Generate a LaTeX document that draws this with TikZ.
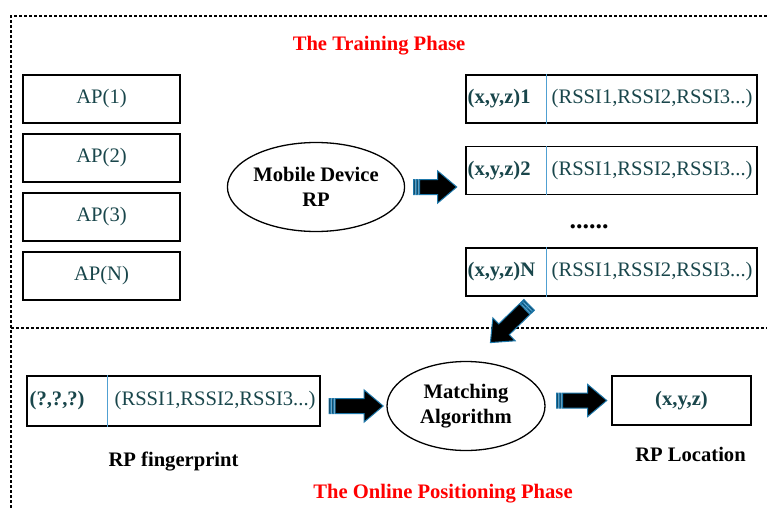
\documentclass[tikz,border=0pt]{standalone}
\usepackage{fontspec}
\setmainfont{Liberation Serif}
\usetikzlibrary{shapes,positioning,calc}
\definecolor{tealText}{RGB}{25,70,75}
\definecolor{arrowBlue}{RGB}{30,120,170}
\definecolor{cellLine}{RGB}{80,160,210}
\newcommand{\bigFont}{\fontsize{20.6}{24.5}\selectfont}

\begin{document}
\begin{tikzpicture}[x=1pt,y=-1pt,thick,
	Box/.style={rectangle,draw=black,line width=1.5pt,minimum height=48pt,inner sep=0pt},
	ApBox/.style={Box,minimum width=157pt,font=\bigFont,text=tealText},
	RowBox/.style={Box,minimum width=291pt},
	Oval/.style={ellipse,draw=black,line width=1.3pt,minimum width=158pt,minimum height=89pt,inner sep=0pt,align=center,font=\bigFont\bfseries},
	Coord/.style={font=\bigFont\bfseries,text=tealText,inner sep=0pt},
	Rssi/.style={font=\bigFont,text=tealText,inner sep=0pt},
	Cell/.style={cellLine,line width=1pt},
	Label/.style={font=\bigFont\bfseries,inner sep=0pt},
	Title/.style={font=\bigFont\bfseries,text=red,inner sep=0pt},
	Frame/.style={black,line width=1.2pt,dash pattern=on 3pt off 2pt},
	arrowlen/.store in=\arrowLen, arrowlen=50,
	stripedarrow/.pic={
		\pgfmathsetmacro{\halfLen}{\arrowLen/2}
		\filldraw[fill=black,draw=arrowBlue,line width=1pt]
		(-\halfLen,-7.5) rectangle ++(1.5,15)
		(-\halfLen+3,-7.5) rectangle ++(1.5,15)
		(-\halfLen+6,-7.5) -- (\halfLen-19,-7.5) -- (\halfLen-19,-16) -- (\halfLen,0)
		-- (\halfLen-19,16) -- (\halfLen-19,7.5) -- (-\halfLen+6,7.5) -- cycle;
	},
]
	\useasboundingbox (0,0) rectangle (767,508);
	
	% dashed frame of the two phases
	\draw[Frame] (767,16) -- (11,16) -- (11,508);
	\draw[Frame] (11,328) -- (767,328);
	
	% training phase
	\node[Title] (trainTitle) at (379,46) {The Training Phase};
	
	\node[ApBox] (ap1) at (101.5,99) {AP(1)};
	\node[ApBox] (ap2) [below=9.5pt of ap1] {AP(2)};
	\node[ApBox] (ap3) [below=9.5pt of ap2] {AP(3)};
	\node[ApBox] (apN) [below=9.5pt of ap3] {AP(N)};
	
	\node[Oval] (mobile) at (316,187) {Mobile Device\\RP};
	
	\node[RowBox] (row1) at (611.5,99) {};
	\node[RowBox] (row2) [below=22pt of row1] {};
	\node[RowBox] (rowN) [below=52pt of row2] {};
	
	\node[Coord,anchor=west] (coord1) at ([xshift=2pt]row1.west) {(x,y,z)1};
	\node[Coord,anchor=west] (coord2) at ([xshift=2pt]row2.west) {(x,y,z)2};
	\node[Coord,anchor=west] (coordN) at ([xshift=2pt]rowN.west) {(x,y,z)N};
	\node[Rssi,anchor=west] (rssi1) at ([xshift=86pt]row1.west) {(RSSI1,RSSI2,RSSI3...)};
	\node[Rssi,anchor=west] (rssi2) at ([xshift=86pt]row2.west) {(RSSI1,RSSI2,RSSI3...)};
	\node[Rssi,anchor=west] (rssiN) at ([xshift=86pt]rowN.west) {(RSSI1,RSSI2,RSSI3...)};
	\draw[Cell] ([xshift=81pt]row1.north west) -- ([xshift=81pt]row1.south west);
	\draw[Cell] ([xshift=81pt]row2.north west) -- ([xshift=81pt]row2.south west);
	\draw[Cell] ([xshift=81pt]rowN.north west) -- ([xshift=81pt]rowN.south west);
	
	\node[font=\fontsize{26}{30}\selectfont\bfseries,anchor=base,inner sep=0pt] (dots) at (589,228) {......};
	
	% online positioning phase
	\node[Box,minimum width=293pt,minimum height=50pt] (fp) at (173.5,401) {};
	\node[Coord,anchor=west] (fpCoord) at ([xshift=3pt]fp.west) {(?,?,?)};
	\node[Rssi,anchor=west] (fpRssi) at ([xshift=88pt]fp.west) {(RSSI1,RSSI2,RSSI3...)};
	\draw[Cell] ([xshift=81pt]fp.north west) -- ([xshift=81pt]fp.south west);
	\node[Label] (fpLabel) [below=25pt of fp] {RP fingerprint};
	
	\node[Oval] (match) at (466,406) {Matching\\Algorithm};
	
	\node[Box,minimum width=139pt,minimum height=49pt,font=\bigFont\bfseries,text=tealText] (loc) at (681.5,400.5) {(x,y,z)};
	\node[Label] (locLabel) [below=21pt of loc, xshift=9pt] {RP Location};
	
	\node[Title] (onlineTitle) at (443,494) {The Online Positioning Phase};
	
	% striped block arrows
	\coordinate (dTail) at ($(rowN.south west)+(64,8)$);
	\coordinate (dTip) at ($(dTail)+(-39,38)$);
	\path (mobile.east) -- (row2.west |- mobile.east) pic[pos=.5,sloped,arrowlen=43]{stripedarrow};
	\path (dTail) -- (dTip) pic[pos=.5,sloped,allow upside down,arrowlen=54]{stripedarrow};
	\path (match.west -| fp.east) -- (match.west) pic[pos=.54,sloped,arrowlen=54]{stripedarrow};
	\path (loc.west -| match.east) -- (loc.west) pic[pos=.55,sloped,arrowlen=50]{stripedarrow};
\end{tikzpicture}
\end{document}
